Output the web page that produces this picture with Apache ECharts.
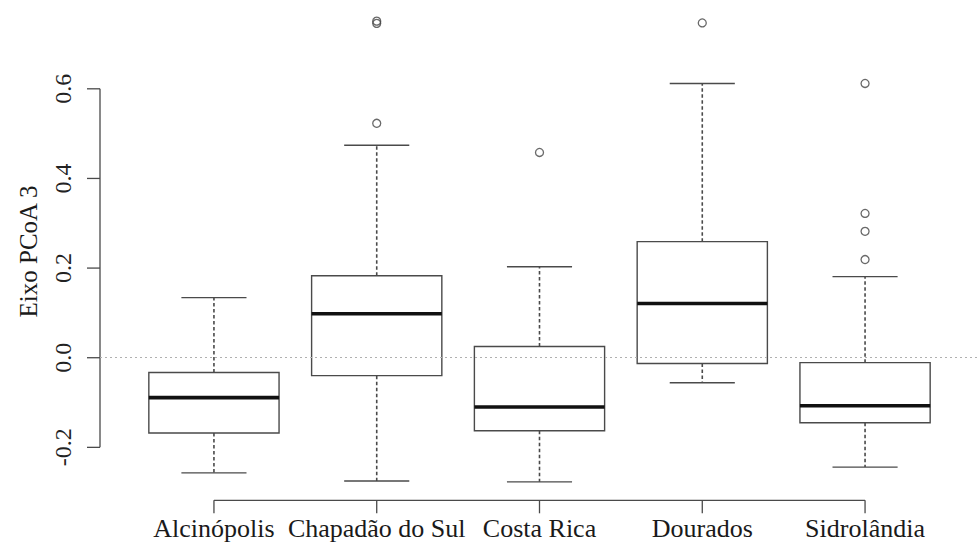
<!DOCTYPE html>
<html><head><meta charset="utf-8">
<script src="https://cdn.jsdelivr.net/npm/echarts@6/dist/echarts.min.js"></script>
<style>html,body{margin:0;padding:0;background:#fff}#c{width:979px;height:554px}</style>
</head><body><div id="c"></div>
<script>
// ---- data ----
const categories = ['Alcinópolis', 'Chapadão do Sul', 'Costa Rica', 'Dourados', 'Sidrolândia'];
// [min whisker, Q1, median, Q3, max whisker]
const lowerWhisker = [-0.257, -0.275, -0.277, -0.056, -0.244];
const q1Values     = [-0.168, -0.040, -0.163, -0.013, -0.145];
const medianValues = [-0.089,  0.098, -0.110,  0.121, -0.107];
const q3Values     = [-0.033,  0.183,  0.025,  0.259, -0.011];
const upperWhisker = [ 0.134,  0.474,  0.203,  0.612,  0.181];
// outliers: [category index, value]
const outlierCat   = [1, 1, 1, 2, 3, 4, 4, 4, 4];
const outlierVal   = [0.751, 0.746, 0.523, 0.458, 0.747, 0.612, 0.322, 0.282, 0.219];
const yTickValues  = [-0.2, 0.0, 0.2, 0.4, 0.6];
const yAxisTitle   = 'Eixo PCoA 3';

// ---- build ----
const xPos = categories.map((_, i) => i + 1);
const boxData = categories.map((_, i) => [xPos[i], lowerWhisker[i], q1Values[i], medianValues[i], q3Values[i], upperWhisker[i]]);
const outlierData = outlierCat.map((c, i) => [xPos[c], outlierVal[i]]);

const allVals = lowerWhisker.concat(upperWhisker, outlierVal);
const dMin = Math.min(...allVals), dMax = Math.max(...allVals);
const ext = (dMax - dMin) * 0.04;
const yMin = dMin - ext, yMax = dMax + ext;
const xMin = 0.5 - 0.2, xMax = categories.length + 0.5 + 0.2;

const serif = '"Liberation Serif", "DejaVu Serif", serif';
const lineCol = '#4a4a4a';
const tickLen = 13;

const chart = echarts.init(document.getElementById('c'), null, {renderer: 'svg'});
chart.setOption({
  backgroundColor: '#fff',
  animation: false,
  grid: {left: 100, top: 2.7, width: 889.6, height: 497.6, containLabel: false},
  xAxis: {
    type: 'value', min: xMin, max: xMax,
    splitLine: {show: false},
    axisLine: {show: false},
    axisTick: {show: false},
    axisLabel: {show: true, customValues: xPos, margin: 15, color: '#1a1a1a',
      fontFamily: serif, fontSize: 26,
      formatter: v => categories[Math.round(v) - 1] || ''}
  },
  yAxis: {
    type: 'value', min: yMin, max: yMax,
    splitLine: {show: false},
    axisLine: {show: false},
    axisTick: {show: false},
    axisLabel: {show: true, customValues: yTickValues, rotate: 90, margin: 25, color: '#222',
      fontFamily: serif, fontSize: 24, formatter: v => v.toFixed(1)},
    name: yAxisTitle, nameLocation: 'middle', nameRotate: 90, nameGap: 59.5,
    nameTextStyle: {fontFamily: serif, fontSize: 25, color: '#1a1a1a'}
  },
  series: [
    {
      type: 'line', data: [], silent: true,
      markLine: {silent: true, symbol: 'none', label: {show: false},
        lineStyle: {color: '#b0b0b0', type: [2, 3], width: 1.2},
        data: [{yAxis: 0}]}
    },
    {
      // R-style axis lines and ticks spanning first..last tick
      type: 'custom', silent: true, data: [[0]],
      renderItem: (params, api) => {
        const st = {stroke: lineCol, lineWidth: 1.3, fill: null};
        const yTop = api.coord([xMin, yTickValues[yTickValues.length - 1]]);
        const yBot = api.coord([xMin, yTickValues[0]]);
        const xL = api.coord([xPos[0], yMin]);
        const xR = api.coord([xPos[xPos.length - 1], yMin]);
        const children = [
          {type: 'line', shape: {x1: yTop[0], y1: yTop[1], x2: yBot[0], y2: yBot[1]}, style: st},
          {type: 'line', shape: {x1: xL[0], y1: xL[1], x2: xR[0], y2: xR[1]}, style: st}
        ];
        yTickValues.forEach(v => {
          const p = api.coord([xMin, v]);
          children.push({type: 'line', shape: {x1: p[0] - tickLen, y1: p[1], x2: p[0], y2: p[1]}, style: st});
        });
        xPos.forEach(v => {
          const p = api.coord([v, yMin]);
          children.push({type: 'line', shape: {x1: p[0], y1: p[1], x2: p[0], y2: p[1] + tickLen}, style: st});
        });
        return {type: 'group', children};
      }
    },
    {
      type: 'custom', silent: true, data: boxData,
      encode: {x: 0, y: [1, 2, 3, 4, 5]},
      renderItem: (params, api) => {
        const x = api.value(0);
        const lo = api.coord([x, api.value(1)]);
        const q1 = api.coord([x, api.value(2)]);
        const md = api.coord([x, api.value(3)]);
        const q3 = api.coord([x, api.value(4)]);
        const hi = api.coord([x, api.value(5)]);
        const bl = api.coord([x - 0.4, 0])[0], br = api.coord([x + 0.4, 0])[0];
        const cl = api.coord([x - 0.2, 0])[0], cr = api.coord([x + 0.2, 0])[0];
        const cx = lo[0];
        const solid = {stroke: lineCol, lineWidth: 1.4, fill: null};
        const dash = {stroke: lineCol, lineWidth: 1.6, lineDash: [3.5, 2.5], fill: null};
        return {type: 'group', children: [
          {type: 'line', shape: {x1: cx, y1: q3[1], x2: cx, y2: hi[1]}, style: dash},
          {type: 'line', shape: {x1: cx, y1: q1[1], x2: cx, y2: lo[1]}, style: dash},
          {type: 'line', shape: {x1: cl, y1: hi[1], x2: cr, y2: hi[1]}, style: solid},
          {type: 'line', shape: {x1: cl, y1: lo[1], x2: cr, y2: lo[1]}, style: solid},
          {type: 'rect', shape: {x: bl, y: q3[1], width: br - bl, height: q1[1] - q3[1]}, style: solid},
          {type: 'line', shape: {x1: bl, y1: md[1], x2: br, y2: md[1]}, style: {stroke: '#111', lineWidth: 3.6}}
        ]};
      }
    },
    {
      type: 'scatter', data: outlierData, symbol: 'circle', symbolSize: 8,
      itemStyle: {color: 'rgba(0,0,0,0)', borderColor: '#444', borderWidth: 1.3}
    }
  ]
});
</script></body></html>
